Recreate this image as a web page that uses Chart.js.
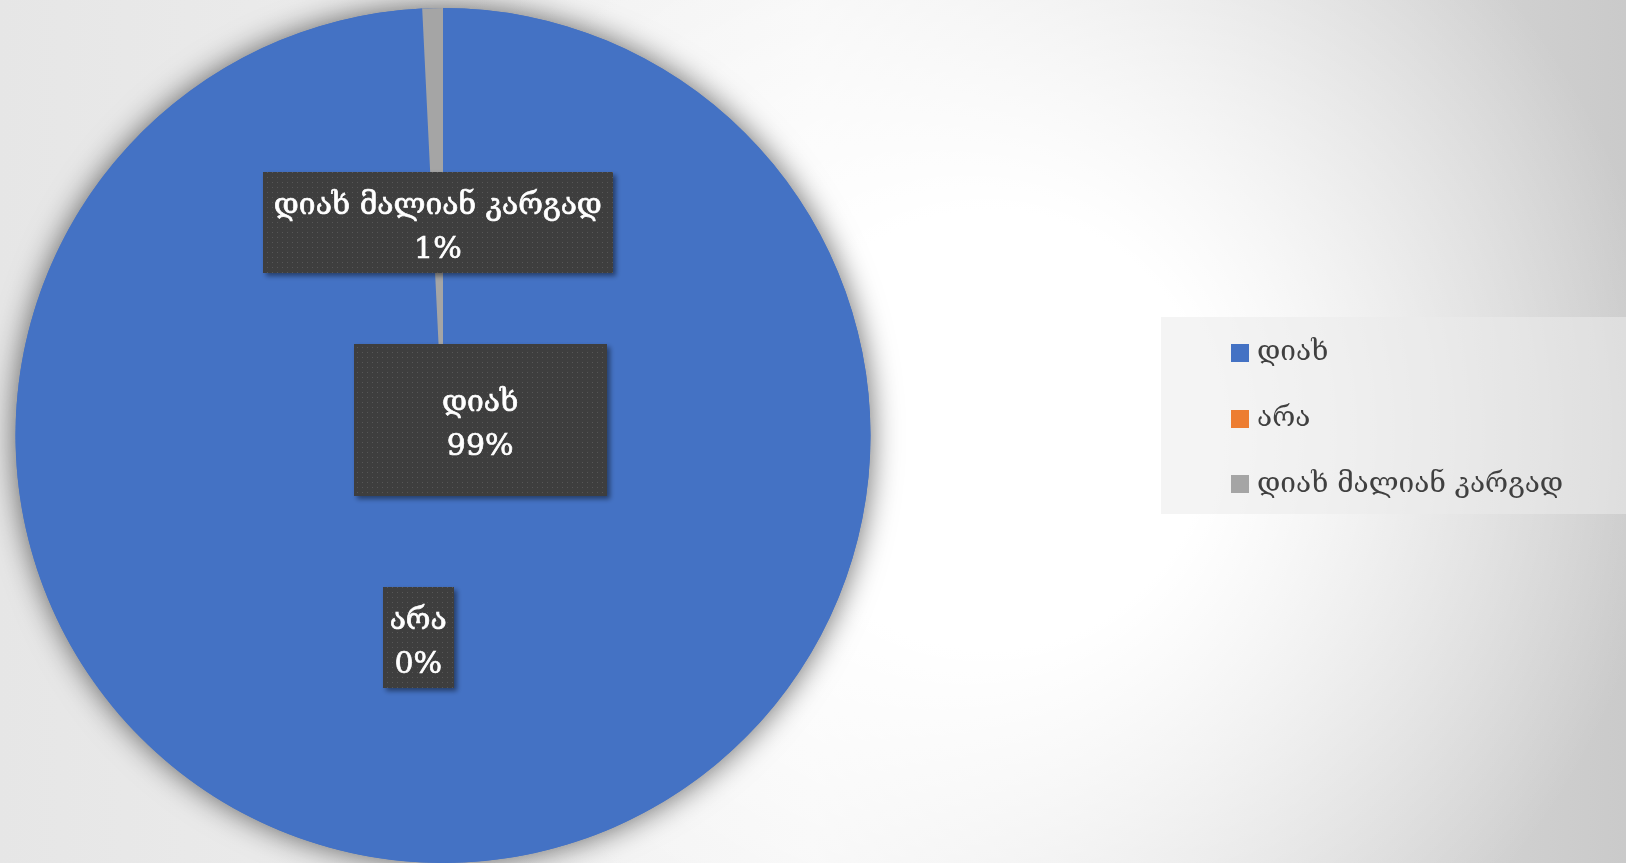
<!DOCTYPE html>
<html>
<head>
<meta charset="utf-8">
<script src="https://cdn.jsdelivr.net/npm/chart.js@4.4.1/dist/chart.umd.min.js"></script>
<style>
  html, body { margin: 0; padding: 0; }
  body {
    width: 1626px; height: 863px; overflow: hidden;
    background:
      radial-gradient(circle at 990px 430px, #fff 0px, #fff 220px, rgba(255,255,255,0) 680px),
      linear-gradient(to right, #e6e6e6 0%, #f3f3f3 50%, #cacaca 100%);
  }
  #wrap { position: absolute; left: 0; top: 0; width: 1626px; height: 863px; }
</style>
</head>
<body>
<div id="wrap"><canvas id="pieChart"></canvas></div>
<script>
// data
const categories = ['დიახ', 'არა', 'დიახ მალიან კარგად'];
const answerCounts = [128, 0, 1];
const sliceColors = ['#4472C4', '#ED7D31', '#A5A5A5'];

// label boxes, in units of the pie radius, measured from the pie centre
const labelSpots = [
  { dx: 0.087, dy: -0.037, w: 0.591, h: 0.355 },
  { dx: -0.058, dy: 0.472, w: 0.166, h: 0.236 },
  { dx: -0.012, dy: -0.498, w: 0.818, h: 0.236 }
];

const labelFont = '30px "DejaVu Serif"';
const legendFont = '28px "DejaVu Serif"';

// dotted fill for the data label boxes
const dotCanvas = document.createElement('canvas');
dotCanvas.width = 5; dotCanvas.height = 5;
const dctx = dotCanvas.getContext('2d');
dctx.fillStyle = '#3e3e3e';
dctx.fillRect(0, 0, 5, 5);
dctx.fillStyle = '#575757';
dctx.fillRect(2, 2, 1, 1);

const total = answerCounts.reduce((a, b) => a + b, 0);
function pct(v) { return Math.round(v / total * 100) + '%'; }

const pieShadow = {
  id: 'pieShadow',
  beforeDatasetsDraw(chart) {
    const arc = chart.getDatasetMeta(0).data[0];
    if (!arc) return;
    const ctx = chart.ctx;
    ctx.save();
    ctx.shadowColor = 'rgba(0,0,0,0.6)';
    ctx.shadowBlur = 30;
    ctx.fillStyle = sliceColors[0];
    ctx.beginPath();
    ctx.arc(arc.x, arc.y, arc.outerRadius, 0, Math.PI * 2);
    ctx.fill();
    ctx.restore();
  }
};

const boxLabels = {
  id: 'boxLabels',
  afterDatasetsDraw(chart) {
    const ctx = chart.ctx;
    const arcs = chart.getDatasetMeta(0).data;
    const pattern = ctx.createPattern(dotCanvas, 'repeat');
    arcs.forEach((arc, i) => {
      const r = arc.outerRadius;
      const s = labelSpots[i];
      const cx = arc.x + s.dx * r;
      const cy = arc.y + s.dy * r;
      const w = s.w * r, h = s.h * r;
      ctx.save();
      ctx.shadowColor = 'rgba(0,0,0,0.45)';
      ctx.shadowBlur = 5;
      ctx.shadowOffsetX = 3;
      ctx.shadowOffsetY = 3;
      ctx.fillStyle = pattern;
      ctx.fillRect(Math.round(cx - w / 2), Math.round(cy - h / 2), Math.round(w), Math.round(h));
      ctx.restore();

      ctx.save();
      ctx.fillStyle = '#ffffff';
      ctx.strokeStyle = '#ffffff';
      ctx.lineWidth = 0.7;
      ctx.font = labelFont;
      ctx.textAlign = 'center';
      ctx.textBaseline = 'middle';
      [categories[i], pct(answerCounts[i])].forEach((t, k) => {
        const ty = cy + (k === 0 ? -16 : 28);
        ctx.fillText(t, cx, ty);
        ctx.strokeText(t, cx, ty);
      });
      ctx.restore();
    });
  }
};

const sideLegend = {
  id: 'sideLegend',
  afterDraw(chart) {
    const ctx = chart.ctx;
    const left = 1161, top = 317, right = chart.width, bottom = 514;
    ctx.save();
    ctx.fillStyle = 'rgba(235,235,235,0.55)';
    ctx.fillRect(left, top, right - left, bottom - top);
    ctx.font = legendFont;
    ctx.textBaseline = 'middle';
    categories.forEach((name, i) => {
      const y = 353 + i * 65.7;
      ctx.fillStyle = sliceColors[i];
      ctx.fillRect(1231, Math.round(y - 9), 18, 18);
      ctx.fillStyle = '#404040';
      ctx.fillText(name, 1257, y);
    });
    ctx.restore();
  }
};

new Chart(document.getElementById('pieChart'), {
  type: 'pie',
  data: {
    labels: categories,
    datasets: [{
      data: answerCounts,
      backgroundColor: sliceColors,
      borderWidth: 0
    }]
  },
  options: {
    responsive: true,
    maintainAspectRatio: false,
    animation: false,
    layout: { padding: { left: 15, right: 755, top: 8, bottom: 0 } },
    plugins: {
      legend: { display: false },
      tooltip: { enabled: false }
    }
  },
  plugins: [pieShadow, boxLabels, sideLegend]
});
</script>
</body>
</html>
